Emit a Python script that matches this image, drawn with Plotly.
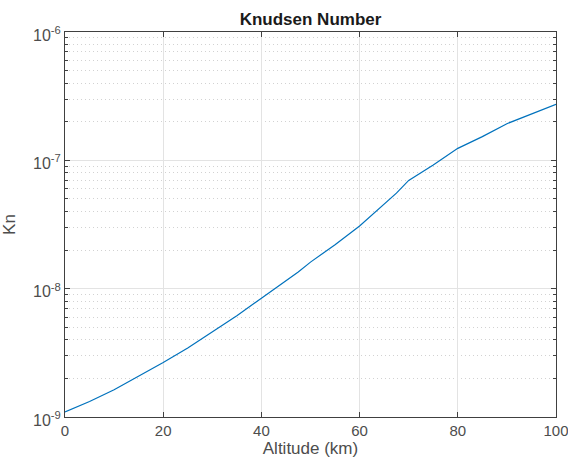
import plotly.graph_objects as go

altitude_km = [0, 5, 10, 15, 20, 25, 30, 35, 40, 45, 47.5, 50, 55, 60, 65, 67.5, 70, 72.5,
               75, 80, 85, 90, 95, 100]
knudsen = [1.094e-9, 1.32e-9, 1.63e-9, 2.07e-9, 2.66e-9, 3.45e-9, 4.64e-9, 6.15e-9, 8.43e-9,
           1.15e-8, 1.35e-8, 1.61e-8, 2.2e-8, 3.08e-8, 4.55e-8, 5.55e-8, 6.98e-8, 8.0e-8,
           9.2e-8, 1.24e-7, 1.53e-7, 1.93e-7, 2.28e-7, 2.73e-7]

x_ticks = [0, 20, 40, 60, 80, 100]
y_ticks = [1e-9, 1e-8, 1e-7, 1e-6]
y_ticktext = ["10<sup>-9</sup>", "10<sup>-8</sup>", "10<sup>-7</sup>", "10<sup>-6</sup>"]

fig = go.Figure()
fig.add_trace(go.Scatter(x=altitude_km, y=knudsen, mode="lines",
                         line=dict(color="#0072BD", width=1.2), showlegend=False))

font_fam = "Liberation Sans, Arial, sans-serif"
axis_col = "#404040"
fig.update_layout(
    width=568, height=466,
    margin=dict(l=65, r=12, t=32, b=49),
    paper_bgcolor="white", plot_bgcolor="white",
    font=dict(family=font_fam, color="#4d4d4d", size=15),
    title=dict(text="<b>Knudsen Number</b>", x=0.5, xref="paper", xanchor="center",
               y=1, yref="paper", yanchor="bottom", pad=dict(b=7), automargin=False,
               font=dict(size=17, color="#1a1a1a", family=font_fam)),
    xaxis=dict(range=[0, 100], tickvals=x_ticks, showgrid=True, gridcolor="#e3e3e3",
               showline=True, linecolor=axis_col, linewidth=1, mirror="ticks",
               ticks="inside", ticklen=5, tickcolor=axis_col, zeroline=False,
               automargin=False, ticklabeloverflow="allow",
               tickfont=dict(size=15, color="#4d4d4d"),
               title=dict(text="Altitude (km)", standoff=3, font=dict(size=17, color="#4d4d4d"))),
    yaxis=dict(type="log", range=[-9, -6], tickvals=y_ticks, ticktext=y_ticktext,
               showgrid=True, gridcolor="#e3e3e3",
               showline=True, linecolor=axis_col, linewidth=1, mirror="ticks",
               ticks="inside", ticklen=5, tickcolor=axis_col, zeroline=False,
               automargin=False, ticklabeloverflow="allow", ticklabelshift=3,
               tickfont=dict(size=16, color="#4d4d4d"),
               minor=dict(ticks="inside", ticklen=3, tickcolor=axis_col, showgrid=True,
                          gridcolor="#d2d2d2", griddash="1px,3px",
                          tickvals=[m * 10 ** e for e in (-9, -8, -7) for m in range(2, 10)]),
               title=dict(text="Kn", standoff=14, font=dict(size=17, color="#4d4d4d"))),
)

fig.write_html("out.html", config={"displayModeBar": False},
               post_script="document.body.style.margin='0';")
